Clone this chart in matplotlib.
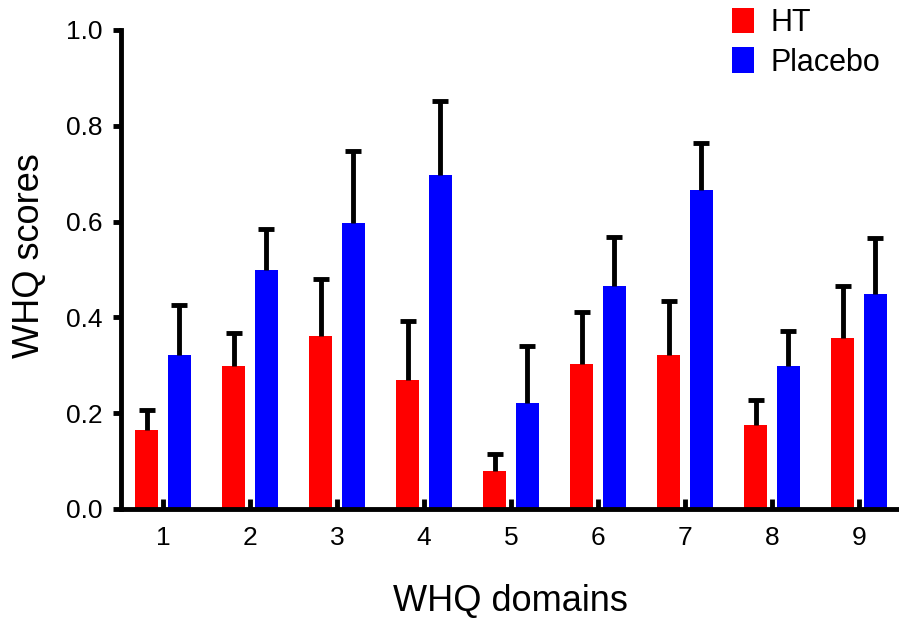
import matplotlib.pyplot as plt
import numpy as np

plt.rcParams['font.family'] = ['Liberation Sans', 'DejaVu Sans']

# WHQ domains and scores (mean, upper error)
domains = ["1", "2", "3", "4", "5", "6", "7", "8", "9"]
ht_mean = [0.165, 0.298, 0.362, 0.270, 0.080, 0.302, 0.322, 0.175, 0.357]
ht_err = [0.042, 0.069, 0.118, 0.123, 0.035, 0.110, 0.113, 0.053, 0.108]
placebo_mean = [0.322, 0.498, 0.598, 0.698, 0.222, 0.465, 0.665, 0.298, 0.448]
placebo_err = [0.103, 0.087, 0.150, 0.154, 0.118, 0.103, 0.100, 0.074, 0.117]

x = np.arange(1, len(domains) + 1)
width = 0.26
offset = 0.187

fig = plt.figure(figsize=(8.99, 6.21), dpi=100)
ax = fig.add_axes([0.1346, 0.1804, 0.8654, 0.7713])

err_kw = dict(ecolor="black", elinewidth=3.5, capsize=5.5, capthick=3.5)
zeros = np.zeros(len(domains))

bars_ht = ax.bar(x - offset, ht_mean, width, color="#ff0000", label="HT",
                 yerr=[zeros, ht_err], error_kw=err_kw, zorder=2)
bars_pl = ax.bar(x + offset, placebo_mean, width, color="#0000ff",
                 label="Placebo", yerr=[zeros, placebo_err], error_kw=err_kw,
                 zorder=2)

# only the upper half of each error bar is shown: hide the lower caps
for bars in (bars_ht, bars_pl):
    caplines = bars.errorbar.lines[1]
    caplines[0].set_visible(False)

ax.set_xlim(0.517, 9.46)
ax.set_ylim(0, 1.0)
ax.set_xticks(x)
ax.set_xticklabels(domains)
ax.set_yticks([0.0, 0.2, 0.4, 0.6, 0.8, 1.0])
ax.set_yticklabels(["0.0", "0.2", "0.4", "0.6", "0.8", "1.0"])

# spines and ticks styled like the original
for side in ["top", "right"]:
    ax.spines[side].set_visible(False)
for side in ["left", "bottom"]:
    ax.spines[side].set_linewidth(3.5)
ax.tick_params(axis="y", direction="out", length=6, width=3.5,
               labelsize=19, pad=7)
ax.tick_params(axis="x", direction="in", length=7, width=3.5,
               labelsize=19, pad=12)

ax.set_xlabel("WHQ domains", fontsize=26, labelpad=25)
ax.set_ylabel("WHQ scores", fontsize=26)
ax.yaxis.set_label_coords(-0.0956, 0.528)

leg = ax.legend(loc="upper left", bbox_to_anchor=(732 / 899, 1 - 8 / 621),
                bbox_transform=fig.transFigure, frameon=False, fontsize=22,
                handlelength=0.72, handleheight=0.9, handletextpad=0.55,
                labelspacing=0.3, borderpad=0, borderaxespad=0)

plt.savefig("out.png", dpi=100)
